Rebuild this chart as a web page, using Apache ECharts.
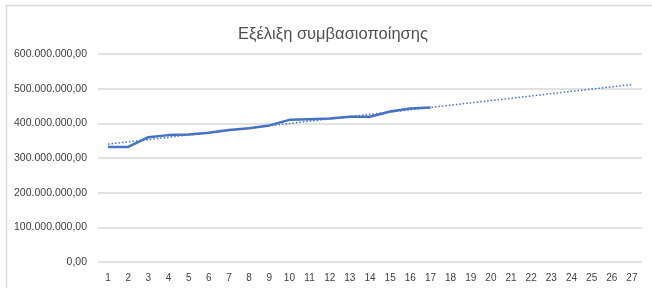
<!DOCTYPE html>
<html>
<head>
<meta charset="utf-8">
<script src="https://cdn.jsdelivr.net/npm/echarts@6/dist/echarts.min.js"></script>
<style>
    html, body { margin: 0; padding: 0; background: #fff; }
    #chart { width: 652px; height: 288px; }
</style>
</head>
<body>
<div id="chart"></div>
<script>
const categories = ["1", "2", "3", "4", "5", "6", "7", "8", "9", "10", "11", "12", "13", "14",
    "15", "16", "17", "18", "19", "20", "21", "22", "23", "24", "25", "26", "27"];

// contracted amount per period (first 17 periods)
const values = [332e6, 332e6, 360e6, 366e6, 368e6, 373e6, 381e6, 386e6, 394e6, 410e6, 412e6,
    414e6, 419e6, 419e6, 434e6, 443e6, 446e6];

// linear trendline, start and end
const trend = [340e6, null, null, null, null, null, null, null, null, null, null, null, null, null,
    null, null, null, null, null, null, null, null, null, null, null, null, 512e6];

const yTicks = [0, 100e6, 200e6, 300e6, 400e6, 500e6, 600e6];

function formatGreek(v) {
    const parts = Math.round(v).toString().replace(/\B(?=(\d{3})+(?!\d))/g, ".");
    return parts + ",00";
}

const chart = echarts.init(document.getElementById("chart"));

chart.setOption({
    animation: false,
    title: {
        text: "Εξέλιξη συμβασιοποίησης",
        left: 328,
        textAlign: "center",
        top: 21,
        textStyle: {
            fontFamily: "Liberation Sans",
            fontWeight: "normal",
            fontSize: 16.5,
            color: "#505050"
        }
    },
    graphic: [
        {
            type: "rect",
            shape: { x: 6.5, y: 5.5, width: 700, height: 320 },
            style: { fill: "none", stroke: "#d9d9d9", lineWidth: 1.5 },
            silent: true
        }
    ],
    grid: {
        left: 98,
        right: 10,
        top: 54,
        bottom: 26
    },
    xAxis: {
        type: "category",
        data: categories,
        boundaryGap: true,
        axisLine: { show: false },
        axisTick: { show: false },
        axisLabel: {
            margin: 11,
            fontFamily: "Liberation Sans",
            fontSize: 10,
            color: "#404040",
            interval: 0
        }
    },
    yAxis: {
        type: "value",
        min: yTicks[0],
        max: yTicks[yTicks.length - 1],
        interval: 100e6,
        axisLine: { show: false },
        axisTick: { show: false },
        splitLine: { lineStyle: { color: "#d9d9d9", width: 1.5 } },
        axisLabel: {
            margin: 11,
            fontFamily: "Liberation Sans",
            fontSize: 10.5,
            color: "#404040",
            formatter: formatGreek
        }
    },
    series: [
        {
            name: "Συμβασιοποίηση",
            type: "line",
            data: values,
            symbol: "none",
            lineStyle: { color: "#4472C4", width: 2.5 },
            z: 3
        },
        {
            name: "Τάση",
            type: "line",
            data: trend,
            connectNulls: true,
            symbol: "none",
            lineStyle: { color: "#4472C4", width: 1.5, type: [1.5, 2] },
            z: 2
        }
    ]
});
</script>
</body>
</html>
